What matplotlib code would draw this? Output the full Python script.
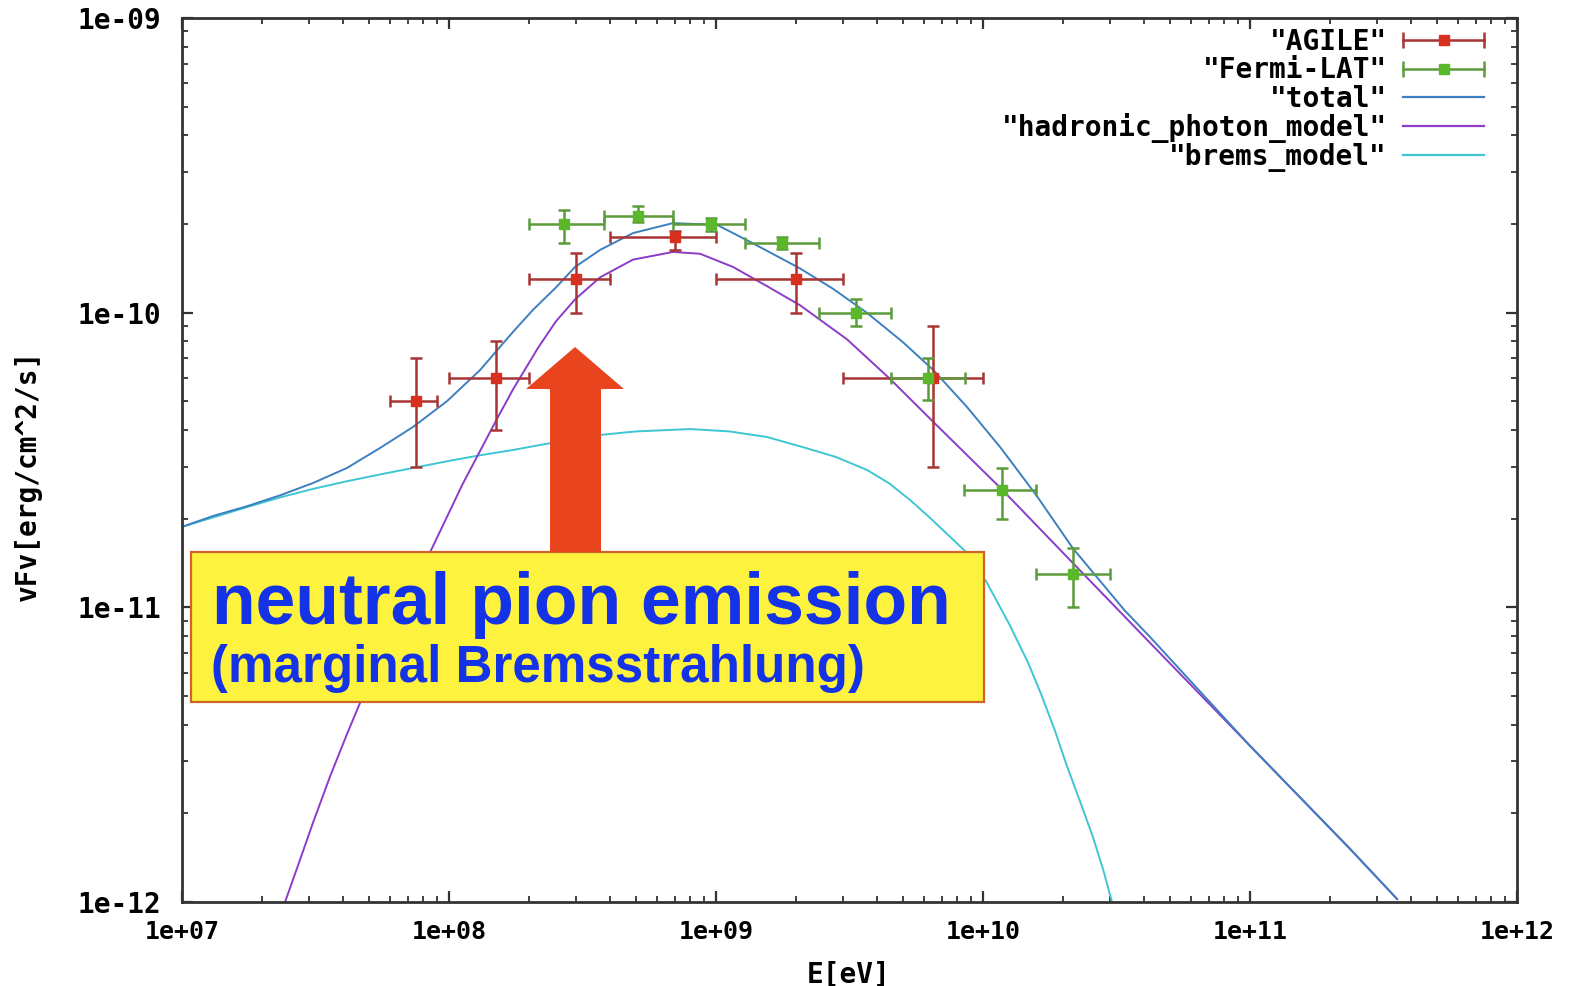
import numpy as np
import matplotlib
matplotlib.use("Agg")
import matplotlib.pyplot as plt
from matplotlib.lines import Line2D
from matplotlib.legend_handler import HandlerLine2D, HandlerTuple
from matplotlib.patches import Rectangle, Polygon
from matplotlib.ticker import LogLocator, NullFormatter, FixedLocator

# ---------------- data ----------------
agile_E   = [7.5e7, 1.5e8, 3.0e8, 7.0e8, 2.0e9, 6.5e9]
agile_F   = [5.0e-11, 6.0e-11, 1.3e-10, 1.8e-10, 1.3e-10, 6.0e-11]
agile_Elo = [6.0e7, 1.0e8, 2.0e8, 4.0e8, 1.0e9, 3.0e9]
agile_Ehi = [9.0e7, 2.0e8, 4.0e8, 1.0e9, 3.0e9, 1.0e10]
agile_Flo = [3.0e-11, 4.0e-11, 1.0e-10, 1.63e-10, 1.0e-10, 3.0e-11]
agile_Fhi = [7.0e-11, 8.0e-11, 1.6e-10, 1.9e-10, 1.6e-10, 9.0e-11]

fermi_E   = [2.7e8, 5.1e8, 9.6e8, 1.77e9, 3.35e9, 6.2e9, 1.18e10, 2.17e10]
fermi_F   = [2.0e-10, 2.13e-10, 2.0e-10, 1.73e-10, 1.0e-10, 6.0e-11, 2.5e-11, 1.3e-11]
fermi_Elo = [2.0e8, 3.8e8, 6.9e8, 1.28e9, 2.43e9, 4.52e9, 8.5e9, 1.58e10]
fermi_Ehi = [3.8e8, 6.9e8, 1.28e9, 2.43e9, 4.52e9, 8.57e9, 1.58e10, 3.0e10]
fermi_Flo = [1.73e-10, 2.03e-10, 1.9e-10, 1.65e-10, 9.0e-11, 5.05e-11, 2.0e-11, 1.0e-11]
fermi_Fhi = [2.23e-10, 2.3e-10, 2.1e-10, 1.8e-10, 1.11e-10, 7.0e-11, 2.97e-11, 1.59e-11]

# model curves (log10 E [eV], log10 vFv)
total_logE = [7.0, 7.116, 7.243, 7.367, 7.491, 7.618, 7.742, 7.865, 7.993, 8.116,
              8.240, 8.315, 8.40, 8.472, 8.566, 8.689, 8.839, 9.004, 9.139, 9.315,
              9.44, 9.566, 9.70, 9.813, 9.94, 10.064, 10.20, 10.337, 10.438, 10.53,
              10.625, 11.0, 11.375, 11.551]
total_logF = [-10.727, -10.69, -10.657, -10.620, -10.578, -10.527, -10.459, -10.388,
              -10.300, -10.195, -10.065, -9.990, -9.915, -9.845, -9.787, -9.730,
              -9.696, -9.702, -9.765, -9.850, -9.920, -10.001, -10.10, -10.194,
              -10.32, -10.456, -10.62, -10.80, -10.91, -11.01, -11.10, -11.47,
              -11.82, -11.99]

hadr_logE = [7.386, 7.431, 7.491, 7.554, 7.618, 7.678, 7.80, 7.936, 8.052, 8.116,
             8.180, 8.240, 8.333, 8.40, 8.472, 8.566, 8.689, 8.839, 8.940, 9.064,
             9.191, 9.315, 9.49, 9.652, 9.813, 9.914, 10.071, 10.337, 10.625, 11.0,
             11.375, 11.551]
hadr_logF = [-12.0, -11.885, -11.73, -11.575, -11.43, -11.30, -11.05, -10.80, -10.58,
             -10.47, -10.36, -10.26, -10.12, -10.03, -9.955, -9.88, -9.82, -9.794,
             -9.800, -9.845, -9.910, -9.975, -10.09, -10.225, -10.37, -10.46, -10.60,
             -10.85, -11.12, -11.47, -11.82, -11.99]

brems_logE = [7.0, 7.116, 7.243, 7.367, 7.491, 7.618, 7.742, 7.865, 8.0, 8.116,
              8.240, 8.341, 8.453, 8.566, 8.70, 8.903, 9.05, 9.191, 9.32, 9.45,
              9.566, 9.65, 9.727, 9.80, 9.87, 9.940, 10.015, 10.10, 10.17, 10.22,
              10.27, 10.315, 10.36, 10.412, 10.45, 10.483]
brems_logF = [-10.727, -10.695, -10.660, -10.627, -10.598, -10.572, -10.549, -10.527,
              -10.503, -10.484, -10.466, -10.449, -10.431, -10.415, -10.403, -10.395,
              -10.403, -10.422, -10.455, -10.490, -10.534, -10.580, -10.636, -10.695,
              -10.755, -10.815, -10.917, -11.06, -11.19, -11.30, -11.42, -11.54,
              -11.65, -11.78, -11.89, -12.0]

x_ticks = [1e7, 1e8, 1e9, 1e10, 1e11, 1e12]
x_labels = ["1e+07", "1e+08", "1e+09", "1e+10", "1e+11", "1e+12"]
y_ticks = [1e-12, 1e-11, 1e-10, 1e-9]
y_labels = ["1e-12", "1e-11", "1e-10", "1e-09"]

legend_labels = ['"AGILE"', '"Fermi-LAT"', '"total"', '"hadronic_photon_model"', '"brems_model"']

# ---------------- style ----------------
W, H = 1577, 986
MONO = "DejaVu Sans Mono"
c_agile_pt, c_agile_bar = "#d8301e", "#a83434"
c_fermi_pt, c_fermi_bar = "#5ab82a", "#5c9a3c"
c_total = "#3d80bf"
c_hadr = "#8c3cc8"
c_brems = "#3ec6d2"

fig = plt.figure(figsize=(W / 100, H / 100), dpi=100)
ax = fig.add_axes([182 / W, (H - 902) / H, (1517 - 182) / W, (902 - 18) / H])
ax.set_xscale("log")
ax.set_yscale("log")
ax.set_xlim(1e7, 1e12)
ax.set_ylim(1e-12, 1e-9)

# curves
ax.plot(10 ** np.array(brems_logE), 10 ** np.array(brems_logF), color=c_brems, lw=1.4, zorder=2)
ax.plot(10 ** np.array(hadr_logE), 10 ** np.array(hadr_logF), color=c_hadr, lw=1.4, zorder=2)
ax.plot(10 ** np.array(total_logE), 10 ** np.array(total_logF), color=c_total, lw=1.4, zorder=2)

def draw_points(E, F, Elo, Ehi, Flo, Fhi, cpt, cbar):
    E = np.array(E); F = np.array(F)
    xerr = [E - np.array(Elo), np.array(Ehi) - E]
    yerr = [F - np.array(Flo), np.array(Fhi) - F]
    ax.errorbar(E, F, xerr=xerr, yerr=yerr, fmt="none", ecolor=cbar,
                elinewidth=1.8, capsize=4.5, capthick=1.8, zorder=3)
    ax.plot(E, F, ls="none", marker="s", ms=7, color=cpt, mec=cpt, zorder=4)

draw_points(agile_E, agile_F, agile_Elo, agile_Ehi, agile_Flo, agile_Fhi, c_agile_pt, c_agile_bar)
draw_points(fermi_E, fermi_F, fermi_Elo, fermi_Ehi, fermi_Flo, fermi_Fhi, c_fermi_pt, c_fermi_bar)

# axes frame & ticks
for sp in ax.spines.values():
    sp.set_linewidth(2.0)
    sp.set_color("#333333")
ax.xaxis.set_major_locator(FixedLocator(x_ticks))
ax.yaxis.set_major_locator(FixedLocator(y_ticks))
ax.xaxis.set_minor_locator(LogLocator(base=10, subs=np.arange(2, 10), numticks=20))
ax.yaxis.set_minor_locator(LogLocator(base=10, subs=np.arange(2, 10), numticks=20))
ax.xaxis.set_minor_formatter(NullFormatter())
ax.yaxis.set_minor_formatter(NullFormatter())
ax.set_xticklabels(x_labels)
ax.set_yticklabels(y_labels)
ax.tick_params(which="both", direction="in", top=True, right=True, color="#333333")
ax.tick_params(which="major", length=8, width=1.6)
ax.tick_params(which="minor", length=4.5, width=1.3)
ax.tick_params(axis="y", which="major", pad=15)
ax.tick_params(axis="x", which="major", pad=13)
for lab in ax.get_xticklabels():
    lab.set_fontfamily(MONO); lab.set_fontweight("bold"); lab.set_fontsize(18)
for lab in ax.get_yticklabels():
    lab.set_fontfamily(MONO); lab.set_fontweight("bold"); lab.set_fontsize(20)

ax.set_xlabel("E[eV]", fontfamily=MONO, fontweight="bold", fontsize=20, va="center")
ax.set_ylabel("vFv[erg/cm^2/s]", fontfamily=MONO, fontweight="bold", fontsize=20, va="center")
ax.xaxis.set_label_coords(0.499, -0.082)
ax.yaxis.set_label_coords(-0.1154, 0.483)

# legend (gnuplot style: text right-aligned, key on the right)
cap_a = Line2D([], [], color=c_agile_bar, lw=1.8, marker="|", ms=11, mew=1.8)
pt_a = Line2D([], [], ls="none", color=c_agile_pt, marker="s", ms=7)
cap_f = Line2D([], [], color=c_fermi_bar, lw=1.8, marker="|", ms=11, mew=1.8)
pt_f = Line2D([], [], ls="none", color=c_fermi_pt, marker="s", ms=7)
l_tot = Line2D([], [], color=c_total, lw=1.6)
l_had = Line2D([], [], color=c_hadr, lw=1.6)
l_brm = Line2D([], [], color=c_brems, lw=1.6)
hmap = {cap_a: HandlerLine2D(numpoints=2, marker_pad=0.0),
        cap_f: HandlerLine2D(numpoints=2, marker_pad=0.0),
        pt_a: HandlerLine2D(numpoints=1), pt_f: HandlerLine2D(numpoints=1),
        tuple: HandlerTuple(ndivide=1, pad=0)}
leg = ax.legend([(cap_a, pt_a), (cap_f, pt_f), l_tot, l_had, l_brm], legend_labels,
                handler_map=hmap, markerfirst=False, frameon=False,
                loc="upper right", bbox_to_anchor=(1484 / W, 1 - 28 / H),
                bbox_transform=fig.transFigure, borderpad=0, borderaxespad=0,
                handlelength=2.9, handletextpad=0.6, labelspacing=0.01,
                prop={"family": MONO, "weight": "bold", "size": 20})

# annotation box
def fx(px):
    return px / W
def fy(py):
    return 1 - py / H

box = Rectangle((fx(191), fy(702)), fx(984) - fx(191), fy(552) - fy(702),
                transform=fig.transFigure, facecolor="#fdf33e", edgecolor="#d0642a",
                lw=1.6, zorder=10, clip_on=False)
ax.add_patch(box)
arrow_px = [(575, 347), (624, 389), (601, 389), (601, 552), (550, 552), (550, 389), (526, 389)]
arrow = Polygon([(fx(x), fy(y)) for x, y in arrow_px], closed=True, transform=fig.transFigure,
                facecolor="#e8441e", edgecolor="none", zorder=10, clip_on=False)
ax.add_patch(arrow)
ax.text(fx(212), fy(624), "neutral pion emission", transform=fig.transFigure,
        fontfamily="Liberation Sans", fontweight="bold", fontsize=51.5, color="#1432e6",
        ha="left", va="baseline", zorder=11)
ax.text(fx(211), fy(682), "(marginal Bremsstrahlung)", transform=fig.transFigure,
        fontfamily="Liberation Sans", fontweight="bold", fontsize=36.8, color="#1432e6",
        ha="left", va="baseline", zorder=11)

fig.savefig("out.png", dpi=100)
